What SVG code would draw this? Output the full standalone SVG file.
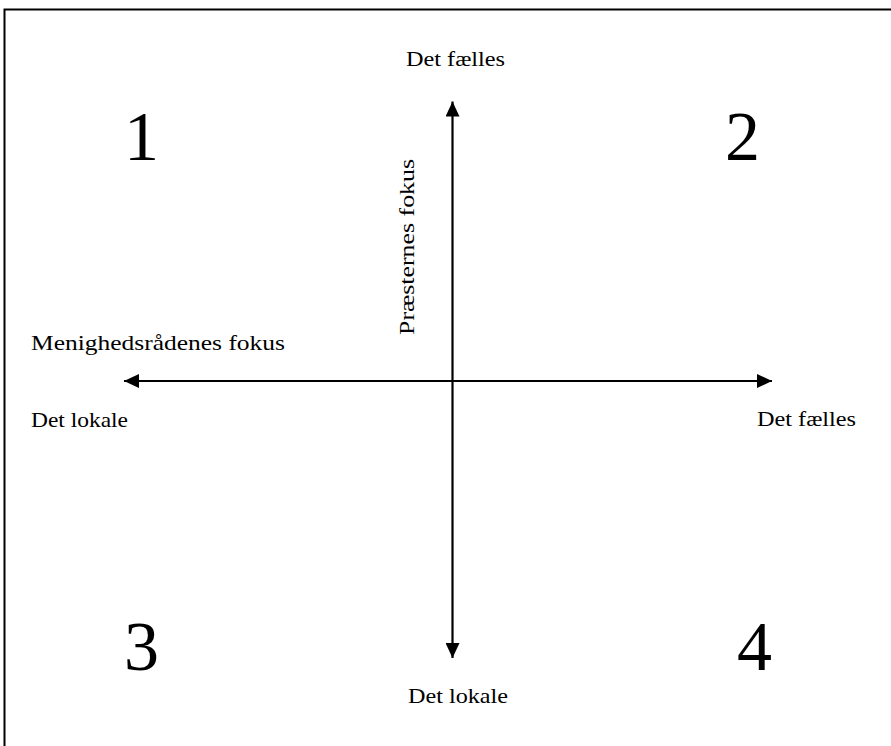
<svg xmlns="http://www.w3.org/2000/svg" width="891" height="746" viewBox="0 0 891 746">
  <defs>
    <marker id="arrow" markerUnits="userSpaceOnUse" markerWidth="15" markerHeight="14" refX="15" refY="7" orient="auto-start-reverse">
      <path d="M0,0 L15,7 L0,14 z" fill="#000"/>
    </marker>
  </defs>
  <style>
    .lbl { font-family: "Liberation Serif", "DejaVu Serif", serif; font-size: 21.5px; fill: #000; }
    .num { font-family: "Liberation Serif", "DejaVu Serif", serif; font-size: 70px; fill: #000; }
    .axis { stroke: #000; stroke-width: 2.2; fill: none; }
    .frame { stroke: #000; stroke-width: 2; fill: none; }
  </style>
  <rect width="891" height="746" fill="#fff"/>
  <g id="frame">
    <path class="frame" d="M4.5,746 L4.5,9.5 L891,9.5"/>
  </g>
  <g id="connectors">
    <line class="axis" x1="452.5" y1="658" x2="452.5" y2="101.5" marker-start="url(#arrow)" marker-end="url(#arrow)"/>
    <line class="axis" x1="124" y1="381" x2="772" y2="381" marker-start="url(#arrow)" marker-end="url(#arrow)"/>
  </g>
  <g id="label-top">
    <text class="lbl" x="406" y="66" textLength="99" lengthAdjust="spacingAndGlyphs">Det fælles</text>
  </g>
  <g id="label-bottom">
    <text class="lbl" x="408" y="703" textLength="100" lengthAdjust="spacingAndGlyphs">Det lokale</text>
  </g>
  <g id="label-left">
    <text class="lbl" x="31" y="427" textLength="97" lengthAdjust="spacingAndGlyphs">Det lokale</text>
  </g>
  <g id="label-right">
    <text class="lbl" x="757" y="426" textLength="99" lengthAdjust="spacingAndGlyphs">Det fælles</text>
  </g>
  <g id="label-menighed">
    <text class="lbl" x="31" y="350" textLength="254" lengthAdjust="spacingAndGlyphs">Menighedsrådenes fokus</text>
  </g>
  <g id="label-praester">
    <text class="lbl" transform="translate(414,335) rotate(-90)" x="0" y="0" textLength="176" lengthAdjust="spacingAndGlyphs">Præsternes fokus</text>
  </g>
  <g id="q1"><text class="num" x="124" y="160">1</text></g>
  <g id="q2"><text class="num" x="725" y="160">2</text></g>
  <g id="q3"><text class="num" x="124" y="670">3</text></g>
  <g id="q4"><text class="num" x="737" y="670">4</text></g>
</svg>
